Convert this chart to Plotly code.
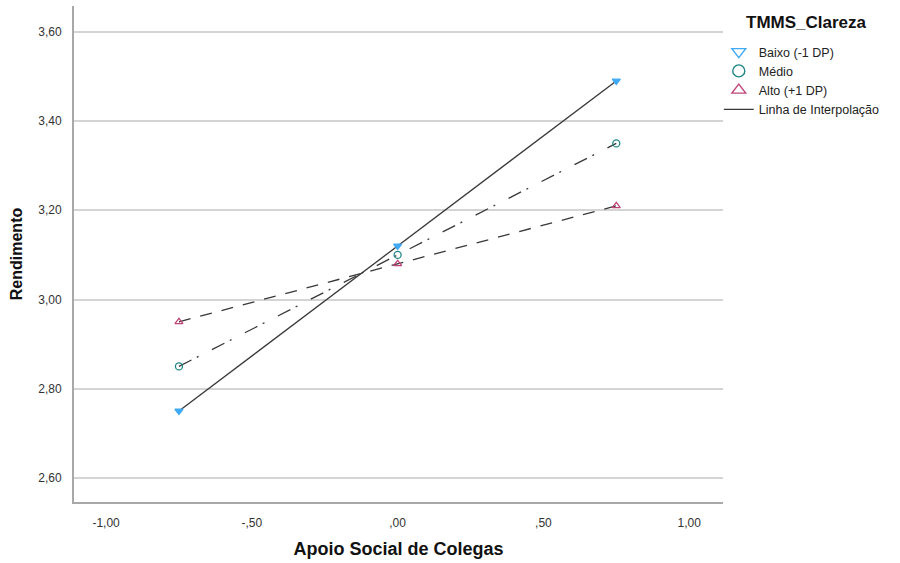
import plotly.graph_objects as go

# Data
x_vals = [-0.75, 0.0, 0.75]
baixo = [2.75, 3.12, 3.49]
medio = [2.85, 3.10, 3.35]
alto = [2.95, 3.08, 3.21]
series_names = ["Baixo (-1 DP)", "Médio", "Alto (+1 DP)"]
interp_name = "Linha de Interpolação"
legend_title = "TMMS_Clareza"

x_tickvals = [-1.0, -0.5, 0.0, 0.5, 1.0]
x_ticktext = ["-1,00", "-,50", ",00", ",50", "1,00"]
y_tickvals = [2.6, 2.8, 3.0, 3.2, 3.4, 3.6]
y_ticktext = ["2,60", "2,80", "3,00", "3,20", "3,40", "3,60"]

x_title = "Apoio Social de Colegas"
y_title = "Rendimento"

FONT = "Liberation Sans, Arial, sans-serif"
LINE_COLOR = "#383838"
colors = ["#3fa9f5", "#1f8585", "#c0457a"]
symbols = ["triangle-down", "circle-open", "triangle-up-open"]
dashes = ["solid", "14px,6px,2px,15px", "12px,10px"]
data = [baixo, medio, alto]

fig = go.Figure()

for name, ys, col, sym, dash in zip(series_names, data, colors, symbols, dashes):
    fig.add_trace(go.Scatter(
        x=x_vals, y=ys, mode="lines",
        line=dict(color=LINE_COLOR, width=1.3, dash=dash),
        showlegend=False, hoverinfo="skip",
    ))
for name, ys, col, sym in zip(series_names, data, colors, symbols):
    fig.add_trace(go.Scatter(
        x=x_vals, y=ys, mode="markers",
        marker=dict(symbol=sym, size=7, color=col,
                    line=dict(color=col, width=1.3)),
        showlegend=False, name=name,
    ))

# legend entries
legend_symbols = ["triangle-down-open", "circle-open", "triangle-up-open"]
for name, col, sym in zip(series_names, colors, legend_symbols):
    fig.add_trace(go.Scatter(
        x=[None], y=[None], mode="markers", name=name,
        marker=dict(symbol=sym, size=12, color=col, line=dict(color=col, width=1.4)),
    ))
fig.add_trace(go.Scatter(
    x=[None], y=[None], mode="lines", name=interp_name,
    line=dict(color=LINE_COLOR, width=1.3),
))

fig.update_layout(
    width=900, height=563,
    margin=dict(l=74, r=177, t=6, b=61),
    plot_bgcolor="white", paper_bgcolor="white",
    font=dict(family=FONT, size=12, color="#333333"),
    legend=dict(
        x=0.9935, xanchor="left", y=0.9375, yanchor="top",
        xref="paper", yref="paper",
        font=dict(family=FONT, size=12.5, color="#222222"),
        itemwidth=30, tracegroupgap=0, bgcolor="rgba(0,0,0,0)",
    ),
    annotations=[
        dict(text="<b>" + legend_title + "</b>", xref="paper", yref="paper",
             x=1.1294, y=0.9677, xanchor="center", yanchor="middle",
             showarrow=False, font=dict(family=FONT, size=17, color="#111111")),
    ],
    xaxis=dict(
        range=[-1.11, 1.116],
        tickvals=x_tickvals, ticktext=x_ticktext,
        showgrid=False, zeroline=False,
        showline=True, linecolor="#a8a8a8", linewidth=2,
        ticks="", ticklabelstandoff=9,
        tickfont=dict(family=FONT, size=12, color="#333333"),
        title=dict(text="<b>" + x_title + "</b>", standoff=13,
                   font=dict(family=FONT, size=18, color="#111111")),
    ),
    yaxis=dict(
        range=[2.546, 3.658],
        tickvals=y_tickvals, ticktext=y_ticktext,
        showgrid=True, gridcolor="#d4d4d4", gridwidth=1.5, zeroline=False,
        showline=True, linecolor="#a8a8a8", linewidth=2,
        ticks="", ticklabelstandoff=8,
        tickfont=dict(family=FONT, size=12, color="#333333"),
        title=dict(text="<b>" + y_title + "</b>", standoff=12,
                   font=dict(family=FONT, size=16, color="#111111")),
    ),
)

fig.write_html("out.html", config={"displayModeBar": False},
               post_script="document.body.style.margin='0px';document.body.style.overflow='hidden';")
